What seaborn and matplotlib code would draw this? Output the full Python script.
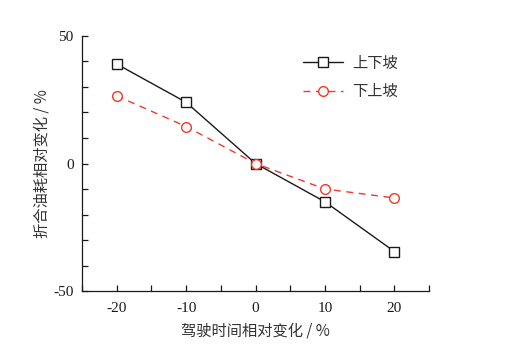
import matplotlib
matplotlib.use("Agg")
import matplotlib.pyplot as plt
import seaborn as sns
import pandas as pd

# Relative change of driving time (%)
time_change = [-20, -10, 0, 10, 20]
# Relative change of equivalent fuel consumption (%)
uphill_first = [39, 24, 0, -15, -34.5]    # 上下坡
downhill_first = [26.5, 14.5, 0, -10, -13.5]  # 下上坡
series_names = ["上下坡", "下上坡"]

x_ticks = [-20, -10, 0, 10, 20]
y_ticks = [-50, 0, 50]

sns.set_style("ticks")
plt.rcParams["font.family"] = ["Liberation Serif", "Noto Sans CJK SC"]
plt.rcParams["axes.unicode_minus"] = False

df = pd.DataFrame({
    "x": time_change * 2,
    "y": uphill_first + downhill_first,
    "series": [series_names[0]] * len(time_change) + [series_names[1]] * len(time_change),
})

fig = plt.figure(figsize=(5.22, 3.49), dpi=100)
ax = fig.add_axes([0.157, 0.166, 0.665, 0.731])

styles = {
    series_names[0]: dict(color="#1a1a1a", marker="s", linestyle="-", markerfacecolor="white",
                          markeredgecolor="#1a1a1a"),
    series_names[1]: dict(color="#ee3a2a", marker="o", linestyle=(0, (5, 4)), markerfacecolor="white",
                          markeredgecolor="#ee3a2a"),
}
for name in series_names:
    sub = df[df["series"] == name]
    st = styles[name]
    sns.lineplot(data=sub, x="x", y="y", ax=ax, label=name, color=st["color"],
                 marker=st["marker"], linestyle=st["linestyle"], linewidth=1.0,
                 markersize=7, markerfacecolor=st["markerfacecolor"],
                 markeredgecolor=st["markeredgecolor"], markeredgewidth=1.0)

ax.set_xlim(-25, 25)
ax.set_ylim(-50, 50)
ax.set_xticks(x_ticks)
ax.set_xticks([-25, -15, -5, 5, 15, 25], minor=True)
ax.set_yticks(y_ticks)
ax.set_yticks([-40, -30, -20, -10, 10, 20, 30, 40], minor=True)
ax.tick_params(which="both", direction="in", length=4, width=0.9, labelsize=11, colors="#1a1a1a")
ax.tick_params(axis="x", pad=8)
ax.tick_params(axis="y", pad=6)
for lbl in ax.get_xticklabels() + ax.get_yticklabels():
    lbl.set_fontfamily(["Liberation Serif"])
sns.despine(ax=ax)
for s in ("left", "bottom"):
    ax.spines[s].set_linewidth(0.9)
    ax.spines[s].set_color("#1a1a1a")

cjk = ["Noto Sans CJK SC", "DejaVu Sans"]
ax.set_xlabel("驾驶时间相对变化 / %", family=cjk, fontsize=11, color="#333333", labelpad=5)
ax.set_ylabel("折合油耗相对变化 / %", family=cjk, fontsize=11, color="#333333", labelpad=2)

leg = ax.legend(loc="upper right", bbox_to_anchor=(0.95, 0.98), frameon=False,
                prop={"family": cjk, "size": 11}, handlelength=2.6, handletextpad=0.6,
                labelspacing=0.75)
for t in leg.get_texts():
    t.set_color("#333333")

fig.savefig("out.png", dpi=100)
